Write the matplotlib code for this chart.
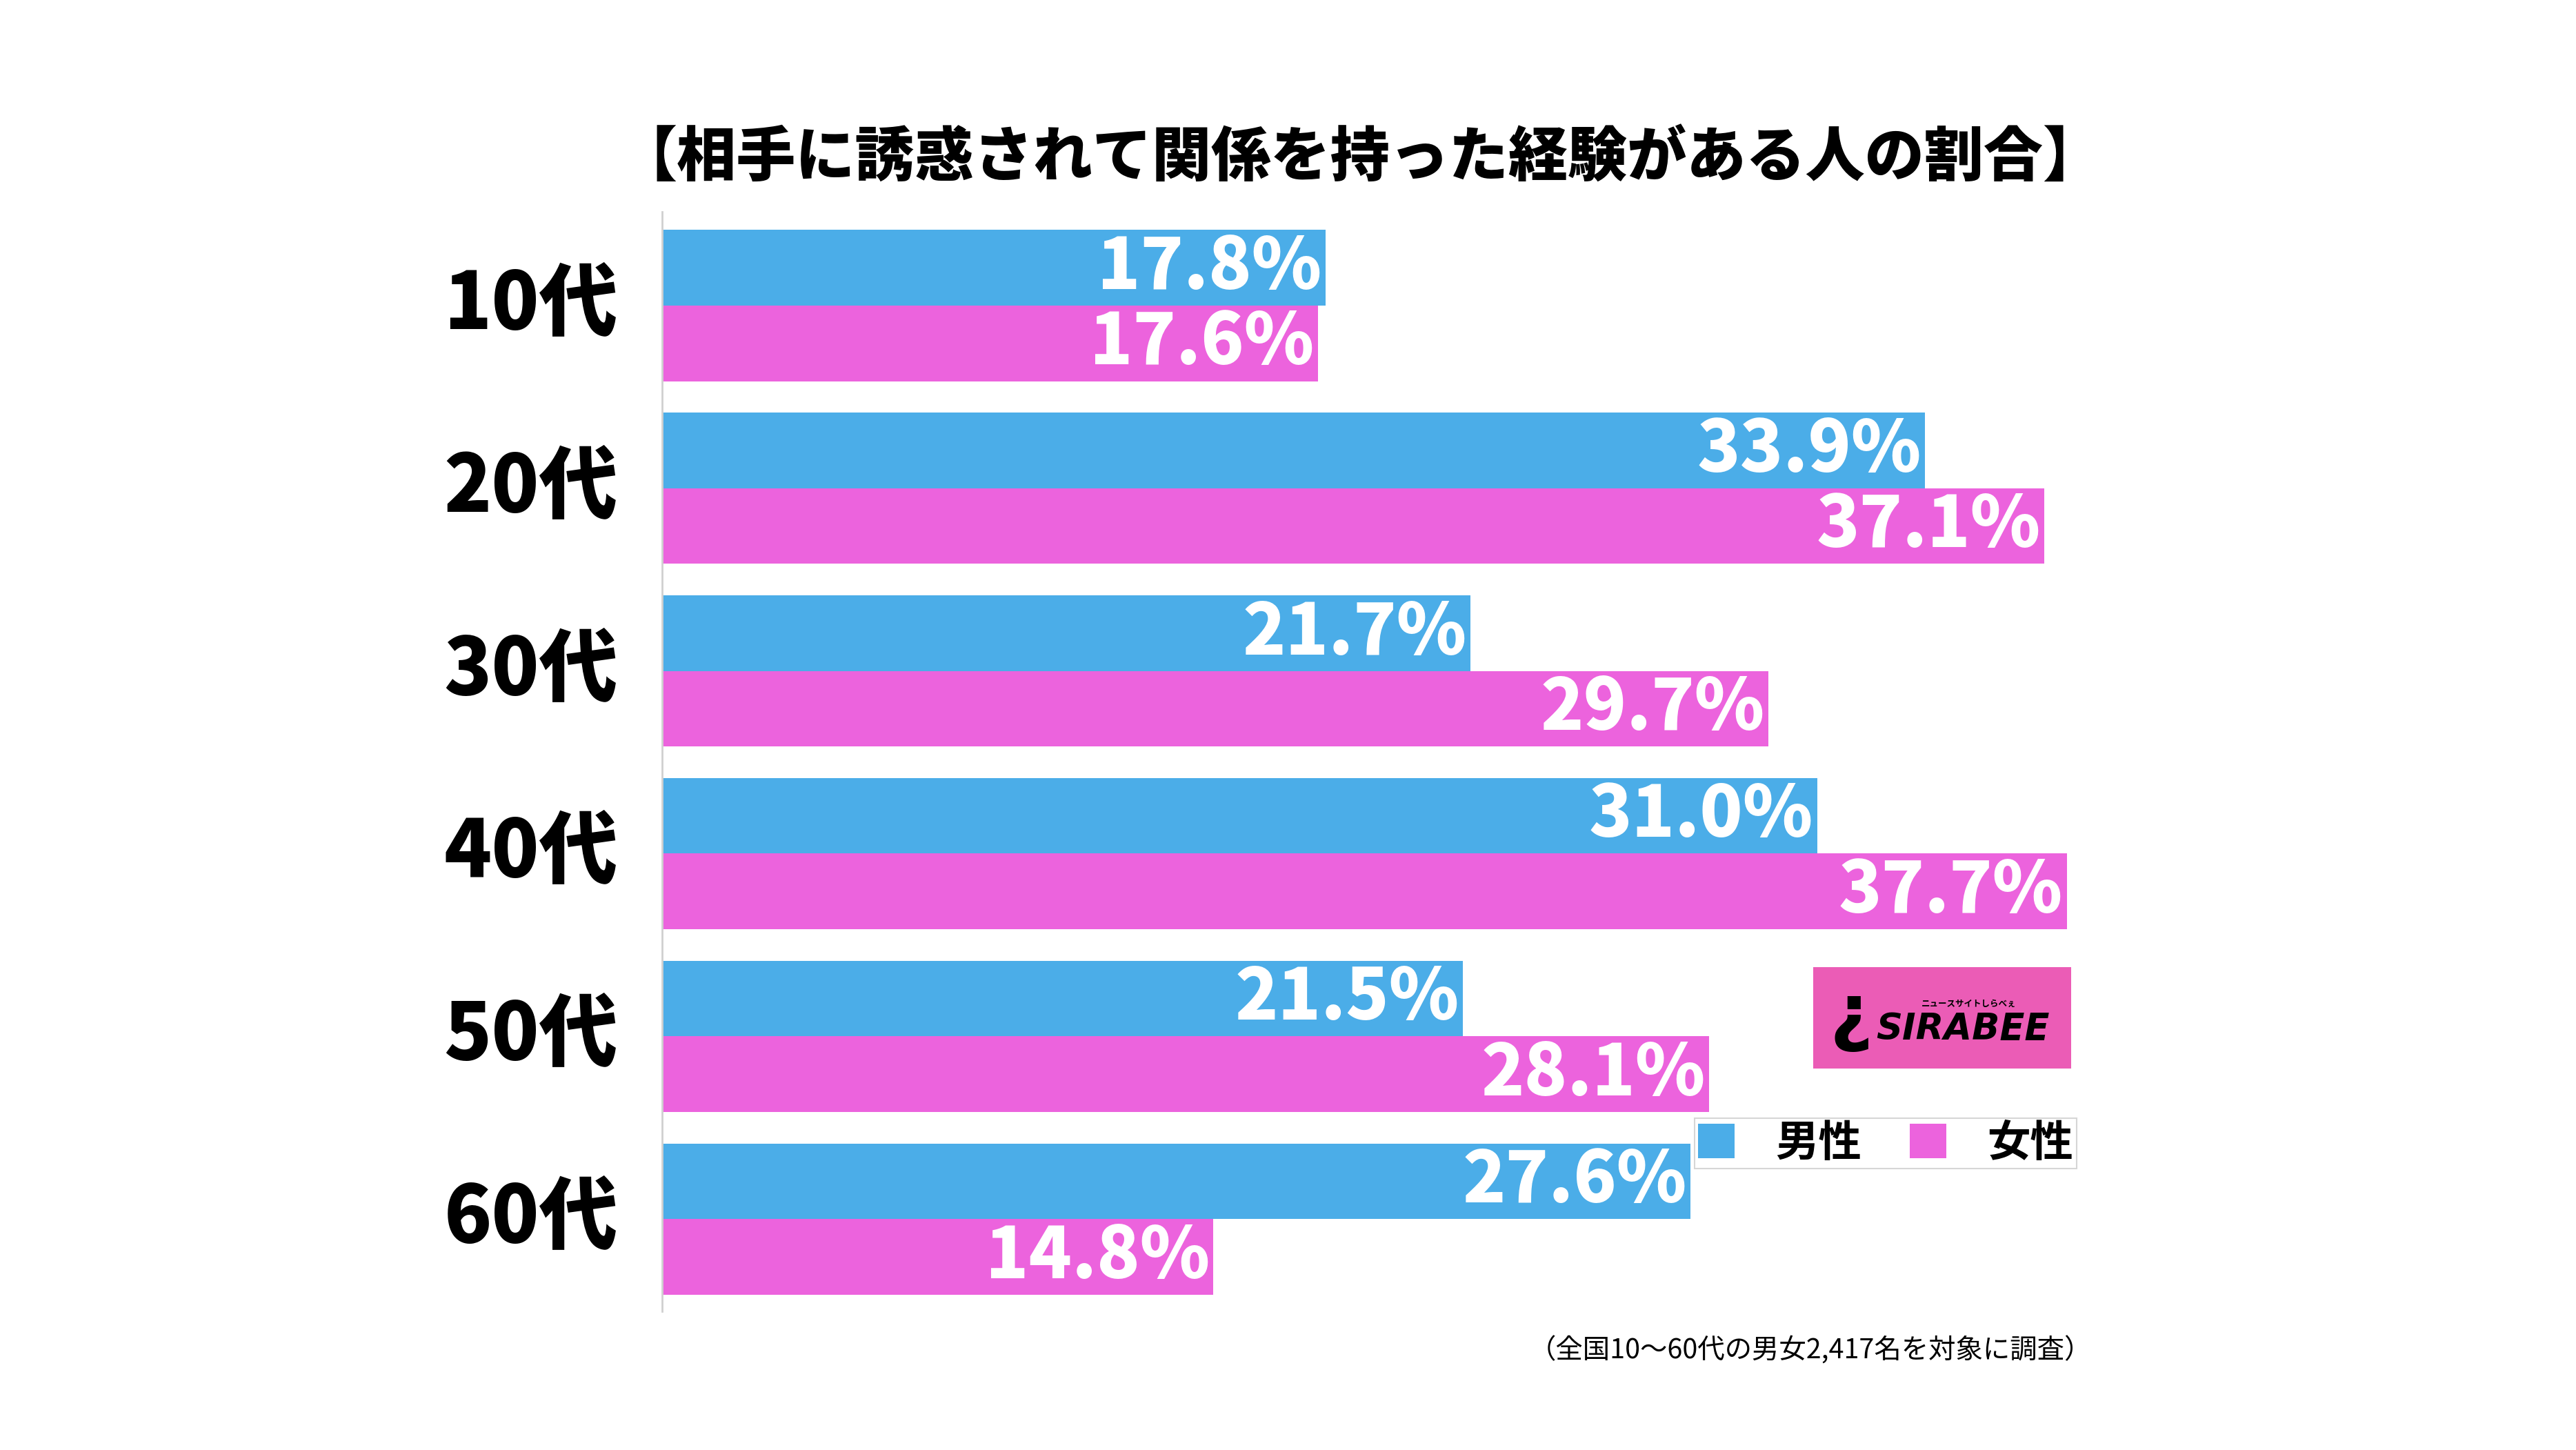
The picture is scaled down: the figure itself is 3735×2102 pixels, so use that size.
import matplotlib
matplotlib.use("Agg")
import matplotlib.pyplot as plt
from matplotlib.patches import Patch, Rectangle
import numpy as np

# ---- data ----
ages   = ["10代", "20代", "30代", "40代", "50代", "60代"]
male   = [17.8, 33.9, 21.7, 31.0, 21.5, 27.6]
female = [17.6, 37.1, 29.7, 37.7, 28.1, 14.8]
series_names = ["男性", "女性"]
title = "【相手に誘惑されて関係を持った経験がある人の割合】"
note  = "（全国10～60代の男女2,417名を対象に調査）"

BLUE = "#4BADE8"; PINK = "#EC63DD"; LOGO = "#EB5CB6"
JP = ["Noto Sans CJK JP", "DejaVu Sans"]
W, H = 3735, 2102

fig = plt.figure(figsize=(W/100, H/100), dpi=100)
fig.patch.set_facecolor("white")
# axes box in pixel terms: x0=960, 54.02 px per %, y from 307 to 1901
ax = fig.add_axes([960/W, 1-1901/H, 2701/W, (1901-307)/H])
bh = 0.414
y = np.arange(len(ages))
ax.barh(y-bh/2, male, height=bh, color=BLUE)
ax.barh(y+bh/2, female, height=bh, color=PINK)
ax.set_xlim(0, 50); ax.set_ylim(5.505, -0.513)
for s in ["top", "right", "bottom"]: ax.spines[s].set_visible(False)
ax.spines["left"].set_color("#d0d0d0"); ax.spines["left"].set_linewidth(2)
ax.set_xticks([]); ax.set_yticks([])

for vals, off in [(male, -bh/2), (female, bh/2)]:
    for i, v in enumerate(vals):
        ax.annotate(f"{v:.1f}%", (v, i+off), xytext=(-4, 0), textcoords="offset points",
                    ha="right", va="center", color="white", fontsize=74,
                    fontweight="heavy", family=JP)

tr = ax.get_yaxis_transform()
for i, a in enumerate(ages):
    ax.text(-0.0237, i, a, transform=tr, ha="right", va="center", fontsize=82,
            fontweight="heavy", family=JP)

fig.text(1972/W, 1-231/H, title, ha="center", va="center", fontsize=62,
         fontweight="heavy", family=JP)
fig.text(3033/W, 1-1958/H, note, ha="right", va="center", fontsize=28.4, family=JP)

handles = [Patch(facecolor=BLUE), Patch(facecolor=PINK)]
leg = fig.legend(handles, series_names, loc="lower right", bbox_to_anchor=(3011/W, 1-1694/H),
                 ncol=2, frameon=True, fancybox=False, handlelength=0.85, handleheight=0.85,
                 handletextpad=0.95, columnspacing=1.1, borderpad=0.08, borderaxespad=0,
                 prop={"family": JP, "weight": "bold", "size": 45})
leg.get_frame().set_edgecolor("#cccccc"); leg.get_frame().set_linewidth(1.5)

# ---- SIRABEE logo ----
fig.patches.append(Rectangle((2629/W, 1-1549/H), 374/W, 147/H, transform=fig.transFigure,
                             facecolor=LOGO, edgecolor="none"))
fig.text(2684/W, 1-1474/H, "¿", ha="center", va="center", fontsize=78, fontweight="bold",
         family="DejaVu Sans", color="black")
fig.text(2720/W, 1-1492/H, "SIRABEE", ha="left", va="center", fontsize=38, fontweight="heavy",
         style="italic", family=["DejaVu Sans"], color="black")
fig.text(2855/W, 1-1455/H, "ニュースサイトしらべぇ", ha="center", va="center", fontsize=9,
         fontweight="bold", family=JP, color="black")

fig.savefig("out.png", dpi=100, facecolor="white")
